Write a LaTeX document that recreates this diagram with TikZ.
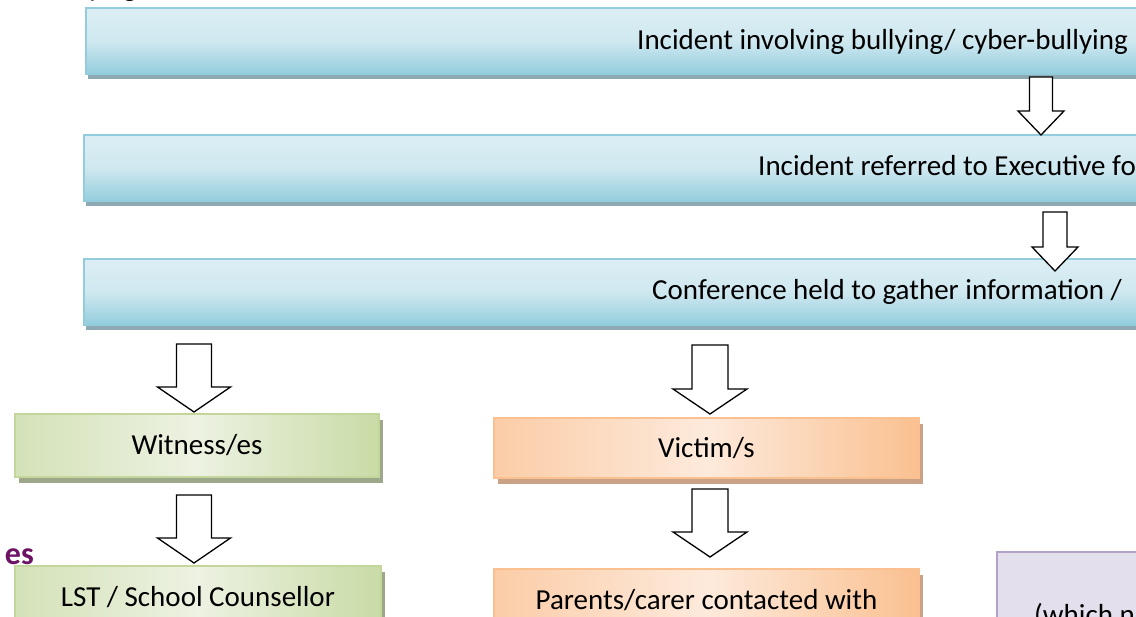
\documentclass[tikz,border=0pt]{standalone}
\usepackage{fontspec}
\setmainfont{Carlito}
\usepackage{xcolor}
\usetikzlibrary{
calc,
shadows
}
\definecolor{blueTop}{HTML}{DCEEF4}
\definecolor{blueMid}{HTML}{CFE8F0}
\definecolor{blueBot}{HTML}{93CDDD}
\definecolor{blueEdge}{HTML}{93CDDD}
\definecolor{blueShade}{HTML}{8DA9B4}
\definecolor{greenDark}{HTML}{C9DBA6}
\definecolor{greenLight}{HTML}{EDF2E2}
\definecolor{greenEdge}{HTML}{C3D69B}
\definecolor{greenShade}{HTML}{9DA88A}
\definecolor{orangeDark}{HTML}{FAC090}
\definecolor{orangeLight}{HTML}{FDEADC}
\definecolor{orangeEdge}{HTML}{FAC090}
\definecolor{orangeShade}{HTML}{C9A286}
\definecolor{purpleFill}{HTML}{E4DFEC}
\definecolor{purpleEdge}{HTML}{B3A2C7}
\definecolor{headingPurple}{HTML}{6E1266}

\begin{document}
\begin{tikzpicture}[
      x=1pt,y=-1pt,
      box/.style={
        rectangle,
        line width=2pt,
        inner sep=0pt,
        anchor=north west,
        font=\fontsize{29}{35}\selectfont
      },
      stepblue/.style={
        box,
        draw=blueEdge,
        top color=blueTop,
        bottom color=blueBot,
        middle color=blueMid,
        minimum width=1700pt,
        minimum height=66pt,
        drop shadow={shadow xshift=2pt,shadow yshift=-5pt,fill=blueShade,opacity=1}
      },
      witbox/.style={
        box,
        draw=greenEdge,
        left color=greenDark!70!greenLight,
        right color=greenDark,
        middle color=greenLight,
        drop shadow={shadow xshift=4pt,shadow yshift=-6pt,fill=greenShade,opacity=1}
      },
      vicbox/.style={
        box,
        draw=orangeEdge,
        left color=orangeDark!70!orangeLight,
        right color=orangeDark,
        middle color=orangeLight,
        drop shadow={shadow xshift=4pt,shadow yshift=-6pt,fill=orangeShade,opacity=1}
      },
      txt/.style={
        inner sep=0pt,
        font=\fontsize{29}{35}\selectfont
      },
      bigarrow/.style n args={3}{
        draw=black,
        fill=white,
        line width=1.3pt,
        line join=miter,
        to path={let \p1=(\tikztostart), \p2=(\tikztotarget) in
          (\x2-#1,\y1) -- (\x2-#1,\y2+#3) -- (\x2-#2,\y2+#3) -- (\x2,\y2)
          -- (\x2+#2,\y2+#3) -- (\x2+#1,\y2+#3) -- (\x2+#1,\y1) -- cycle}
      }
    ]
    \useasboundingbox (0,0) rectangle (1136,617);
    \clip (0,0) rectangle (1136,617);
    \fill[white] (0,0) rectangle (1136,617);

    \node[txt,anchor=base west] (title) at (88,-3) {ying};

    \node[stepblue] (incident) at (85,7) {};
    \node[txt,anchor=base west] (incidentT) at (637,50) {Incident involving bullying/ cyber-bullying};

    \node[stepblue] (referred) at (83,134) {};
    \node[txt,anchor=base west] (referredT) at (758,176) {Incident referred to Executive fo};

    \node[stepblue] (conference) at (83,258) {};
    \node[txt,anchor=base west] (conferenceT) at (652,300) {Conference held to gather information /};

    \node[witbox,minimum width=364pt,minimum height=63pt] (witness) at (14,413) {Witness/es};
    \node[witbox,minimum width=366pt,minimum height=90pt] (counsellor) at (14,565) {};
    \node[txt,anchor=base] (counsellorT) at ($(counsellor.north)+(0,41)$) {LST / School Counsellor};

    \node[vicbox,minimum width=425pt,minimum height=60pt] (victim) at (493,417) {Victim/s};
    \node[vicbox,minimum width=425pt,minimum height=90pt] (parents) at (493,568) {};
    \node[txt,anchor=base] (parentsT) at ($(parents.north)+(0,41)$) {Parents/carer contacted with};

    \node[box,draw=purpleEdge,fill=purpleFill,minimum width=400pt,minimum height=150pt] (outcome) at (996,551) {};
    \node[txt,anchor=base west] (outcomeT) at (1034,624) {(which n};

    \node[txt,anchor=base east,font=\fontsize{32}{36}\selectfont\bfseries,text=headingPurple] (heading) at (34,564) {es};

    \coordinate (a1) at (1041,0);
    \coordinate (a2) at (1055,0);
    \coordinate (a3) at (194,0);
    \coordinate (a4) at (710,0);

    \draw[bigarrow={11.5pt}{23pt}{24pt}] ($(incident.south -| a1)+(0,2)$) to ($(referred.north -| a1)+(0,1)$);
    \draw[bigarrow={12pt}{23pt}{24pt}] ($(referred.south -| a2)+(0,10)$) to ($(conference.north -| a2)+(0,13)$);
    \draw[bigarrow={17.5pt}{36.5pt}{25pt}] ($(conference.south -| a3)+(0,18)$) to ($(witness.north -| a3)+(0,-1)$);
    \draw[bigarrow={18pt}{37pt}{25pt}] ($(conference.south -| a4)+(0,19)$) to ($(victim.north -| a4)+(0,-3)$);
    \draw[bigarrow={17.5pt}{36.5pt}{25pt}] ($(witness.south -| a3)+(0,17)$) to ($(counsellor.north -| a3)+(0,-2)$);
    \draw[bigarrow={18pt}{37pt}{25pt}] ($(victim.south -| a4)+(0,10)$) to ($(parents.north -| a4)+(0,-11)$);

  \end{tikzpicture}
\end{document}
